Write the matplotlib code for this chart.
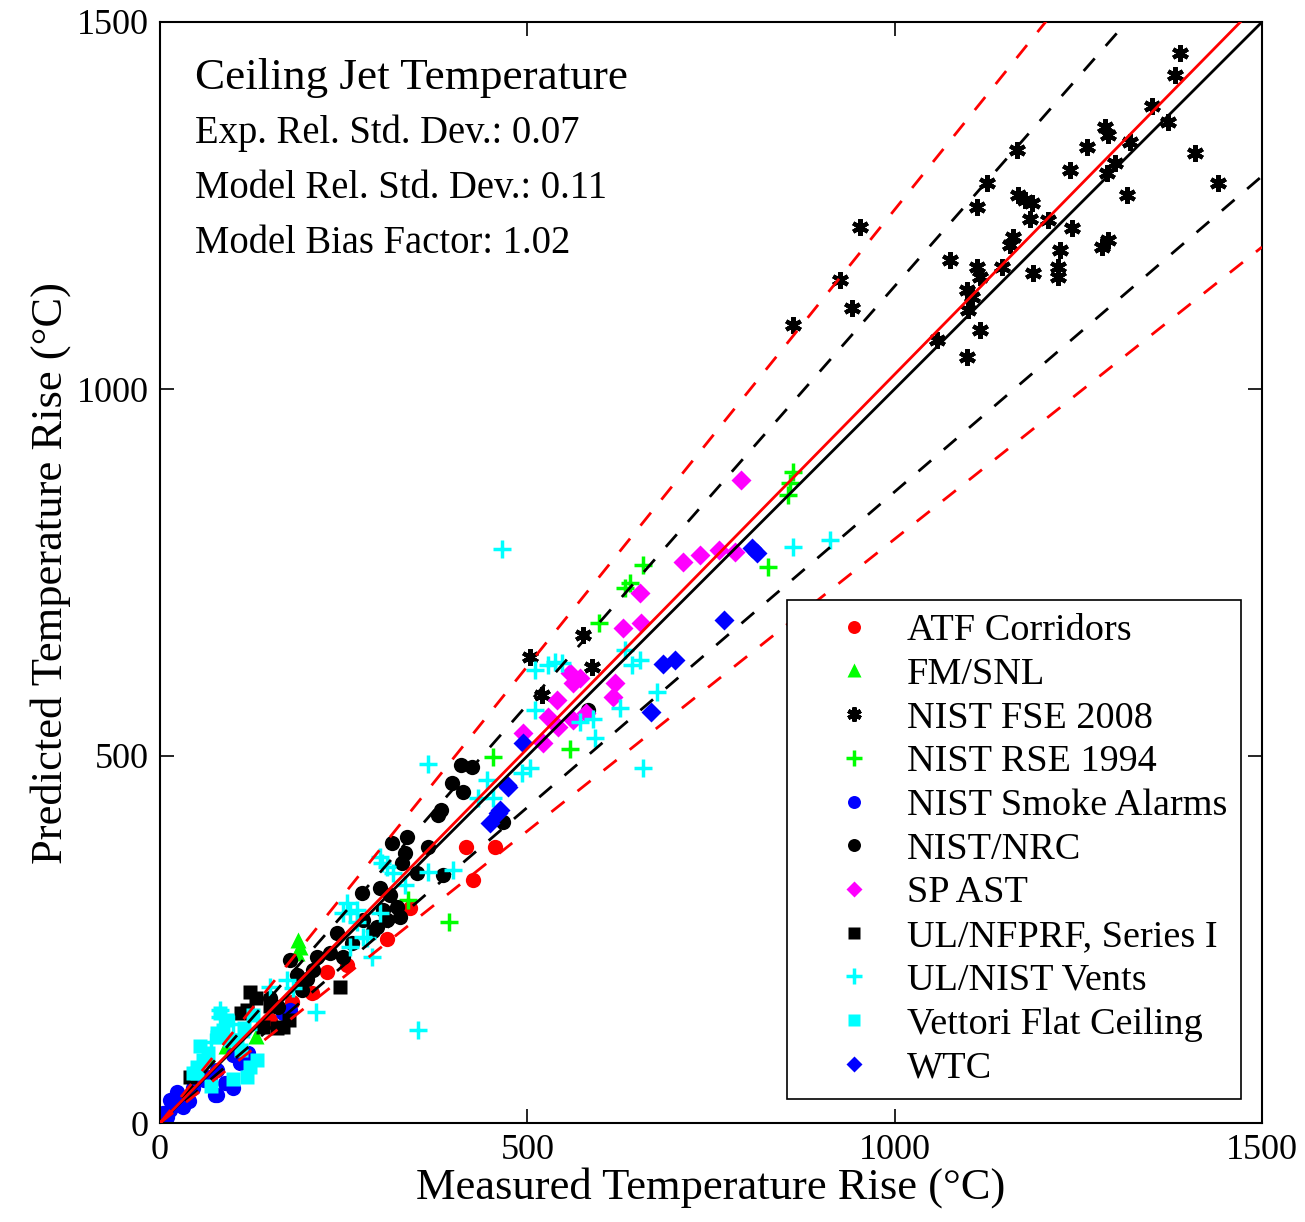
import matplotlib
matplotlib.use('Agg')
import matplotlib.pyplot as plt
import numpy as np

plt.rcParams['font.family'] = ['Liberation Serif', 'DejaVu Serif']

# measured / predicted temperature rise (C)
atf_x = [416, 456, 426, 309, 340, 227, 254, 207, 180, 150]
atf_y = [376, 376, 331, 251, 293, 206, 215, 177, 165, 140]

fm_x = [191, 188, 186, 65, 130, 90]
fm_y = [240, 250, 232, 90, 118, 105]

fse_x = [1388, 1381, 1350, 1372, 1286, 1290, 1320, 1262, 1166, 1409, 1300, 1239, 1289,
         1126, 1440, 1316, 1112, 1168, 1177, 1187, 1184, 1209, 1241, 953, 1161, 1157,
         1290, 1282, 1225, 1075, 1146, 1112, 1116, 1188, 1222, 1222, 926, 1098, 1105,
         942, 1100, 862, 1116, 1058, 1098, 504, 576, 588, 520]
fse_y = [1458, 1428, 1385, 1364, 1357, 1346, 1336, 1330, 1325, 1321, 1308, 1298, 1294,
         1280, 1280, 1264, 1248, 1264, 1257, 1253, 1231, 1230, 1219, 1221, 1207, 1196,
         1203, 1193, 1189, 1176, 1166, 1166, 1152, 1158, 1166, 1152, 1148, 1135, 1125,
         1110, 1107, 1087, 1080, 1067, 1043, 635, 665, 621, 583]

rse_x = [657, 640, 633, 598, 453, 558, 828, 338, 393, 862, 857, 855]
rse_y = [760, 736, 729, 681, 499, 509, 757, 304, 274, 887, 872, 855]

alarm_x = [170, 177, 167, 118, 109, 78, 68, 88, 78, 99, 23, 14, 31, 4, 14, 31, 75,
           60, 45, 120, 100, 40, 20, 10, 52]
alarm_y = [150, 154, 150, 88, 82, 72, 63, 54, 38, 48, 42, 31, 31, 14, 18, 22, 38,
           58, 48, 96, 92, 30, 25, 8, 60]

nrc_x = [410, 425, 397, 412, 378, 382, 336, 316, 365, 333, 329, 385, 350, 275, 299,
         313, 322, 309, 327, 295, 241, 467, 177, 214, 208, 249, 276, 304, 186, 193,
         231, 583, 262, 290, 200, 150, 160]
nrc_y = [488, 485, 463, 451, 420, 426, 390, 381, 376, 368, 354, 338, 340, 313, 320,
         311, 294, 277, 281, 267, 259, 410, 222, 226, 208, 226, 277, 290, 202, 181,
         232, 563, 245, 262, 196, 170, 158]

sp_x = [712, 735, 761, 783, 791, 653, 630, 655, 619, 617, 558, 572, 562, 540, 528,
        542, 562, 494, 521, 580]
sp_y = [764, 774, 781, 778, 876, 722, 674, 681, 599, 580, 613, 606, 599, 576, 553,
        539, 549, 531, 518, 558]

ul_x = [122, 245, 118, 159, 140, 167, 41, 130, 150, 175, 110]
ul_y = [179, 185, 154, 129, 131, 131, 63, 170, 160, 140, 150]

vent_x = [465, 862, 912, 510, 528, 538, 547, 633, 642, 653, 676, 510, 626, 572, 589,
          592, 504, 493, 445, 657, 453, 433, 365, 365, 399, 299, 302, 309, 317, 333,
          254, 259, 268, 282, 351, 212, 289, 259, 276, 299, 249, 268, 150, 173, 181,
          82, 82, 100, 120, 70]
vent_y = [782, 785, 794, 617, 624, 628, 627, 644, 624, 631, 587, 563, 565, 546, 550,
          524, 484, 477, 467, 484, 443, 443, 489, 342, 345, 362, 354, 349, 341, 324,
          300, 286, 274, 252, 127, 151, 226, 240, 253, 286, 286, 290, 185, 195, 184,
          154, 144, 135, 128, 110]

vet_x = [82, 78, 50, 45, 59, 122, 132, 118, 95, 86, 91, 127, 78, 105, 50, 110, 65,
         100, 70, 115, 55]
vet_y = [150, 123, 76, 68, 86, 76, 86, 63, 113, 127, 140, 147, 117, 113, 68, 100, 95,
         60, 50, 130, 105]

wtc_x = [806, 812, 768, 685, 701, 668, 494, 474, 463, 472, 449, 460]
wtc_y = [783, 776, 685, 625, 631, 560, 518, 458, 426, 460, 409, 422]

exp_sd = 0.07
model_sd = 0.11
bias = 1.02

fig = plt.figure(figsize=(13.05, 12.22), dpi=100)
ax = fig.add_axes([160 / 1305, 1 - 1123 / 1222, 1102 / 1305, 1101 / 1222])

ax.plot(atf_x, atf_y, 'o', color='#ff0000', ms=11, mec='none', label='ATF Corridors')
ax.plot(fm_x, fm_y, '^', color='#00ff00', ms=12, mec='none', label='FM/SNL')
ax.plot(fse_x, fse_y, ls='none', marker=(6, 2, 0), color='k', ms=12, mew=3,
        label='NIST FSE 2008')
ax.plot(rse_x, rse_y, '+', color='#00ff00', ms=13, mew=2.5, label='NIST RSE 1994')
ax.plot(alarm_x, alarm_y, 'o', color='#0000ff', ms=11, mec='none', label='NIST Smoke Alarms')
ax.plot(nrc_x, nrc_y, 'o', color='k', ms=11, mec='none', label='NIST/NRC')
ax.plot(sp_x, sp_y, 'D', color='#ff00ff', ms=10, mec='none', label='SP AST')
ax.plot(ul_x, ul_y, 's', color='k', ms=10, mec='none', label='UL/NFPRF, Series I')
ax.plot(vent_x, vent_y, '+', color='#00ffff', ms=13, mew=2.5, label='UL/NIST Vents')
ax.plot(vet_x, vet_y, 's', color='#00ffff', ms=10, mec='none', label='Vettori Flat Ceiling')
ax.plot(wtc_x, wtc_y, 'D', color='#0000ff', ms=10, mec='none', label='WTC')

x = np.array([0, 1500])
ax.plot(x, x, 'k-', lw=2, zorder=5)
ax.plot(x, x * (1 + 2 * exp_sd), 'k--', lw=2, dashes=(6, 6), zorder=5)
ax.plot(x, x * (1 - 2 * exp_sd), 'k--', lw=2, dashes=(6, 6), zorder=5)
ax.plot(x, bias * x, '-', color='#ff0000', lw=2, zorder=5)
ax.plot(x, bias * x * (1 + 2 * model_sd), '--', color='#ff0000', lw=2, dashes=(6, 6), zorder=5)
ax.plot(x, bias * x * (1 - 2 * model_sd), '--', color='#ff0000', lw=2, dashes=(6, 6), zorder=5)

ax.set_xlim(0, 1500)
ax.set_ylim(0, 1500)
ax.set_xticks([0, 500, 1000, 1500])
ax.set_yticks([0, 500, 1000, 1500])
ax.tick_params(direction='in', length=10, width=1.2, top=True, right=True,
               labelsize=26, pad=8)
for s in ax.spines.values():
    s.set_linewidth(1.5)

ax.set_xlabel('Measured Temperature Rise (°C)', fontsize=32, labelpad=0)
ax.set_ylabel('Predicted Temperature Rise (°C)', fontsize=32, labelpad=4)

ax.text(0.032, 0.949, 'Ceiling Jet Temperature', transform=ax.transAxes,
        fontsize=32.5, va='center')
ax.text(0.032, 0.899, 'Exp. Rel. Std. Dev.: %.2f' % exp_sd, transform=ax.transAxes,
        fontsize=27.8, va='center')
ax.text(0.032, 0.849, 'Model Rel. Std. Dev.: %.2f' % model_sd, transform=ax.transAxes,
        fontsize=27.8, va='center')
ax.text(0.032, 0.799, 'Model Bias Factor: %.2f' % bias, transform=ax.transAxes,
        fontsize=27.8, va='center')

leg = ax.legend(loc='upper left', bbox_to_anchor=((787 - 160) / 1102, 1 - (600 - 22) / 1101),
                fontsize=27.5, markerscale=0.85, handlelength=2.8, handletextpad=0.0,
                labelspacing=0.235, borderpad=0.35, borderaxespad=0, fancybox=False,
                framealpha=1, edgecolor='k')
leg.get_frame().set_linewidth(1.2)
leg.set_zorder(10)

fig.savefig('out.png', dpi=100)
